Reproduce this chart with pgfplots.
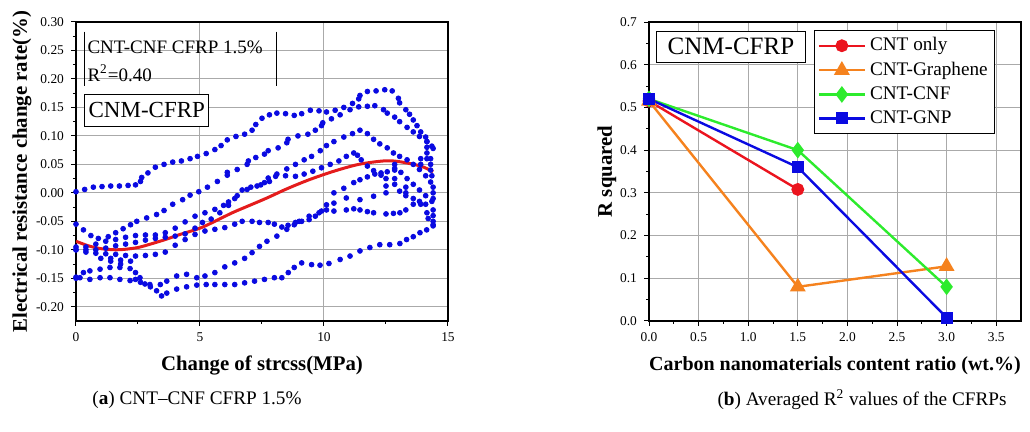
\documentclass[border=0pt]{standalone}
\usepackage{pgfplots}
\pgfplotsset{compat=1.18}
\usepackage{fontspec}
\setmainfont{Liberation Serif}
\definecolor{dotblue}{RGB}{10,10,225}
\definecolor{fitred}{RGB}{228,28,28}
\definecolor{ored}{RGB}{235,20,30}
\definecolor{oorange}{RGB}{245,130,30}
\definecolor{ogreen}{RGB}{45,235,45}
\definecolor{oblue}{RGB}{10,10,225}
\definecolor{gridgray}{RGB}{170,170,170}
\pgfplotsset{
  base/.style={scale only axis, width=186pt, height=149.5pt,
    axis line style={line width=0.6pt},
    grid=major, major grid style={gridgray, line width=0.5pt},
    tick align=outside, xtick pos=bottom, ytick pos=left,
    major tick length=2.5pt, minor tick length=1.5pt,
    tick style={black, line width=0.5pt},
    /pgf/number format/assume math mode=true,
    tick label style={font=\fontsize{6.7}{7}\selectfont},
    label style={font=\bfseries\fontsize{10.4}{12}\selectfont}},
  dots/.style={only marks, mark=*, mark size=1.2pt, color=dotblue}
}
\begin{document}
\begin{tikzpicture}
\path[use as bounding box] (0,0) rectangle (515pt,216pt);
\begin{axis}[base, at={(38pt,55.5pt)}, anchor=south west,
  xmin=0, xmax=15, ymin=-0.225, ymax=0.30,
  xtick={0,5,10,15}, minor x tick num=1,
  ytick={-0.2,-0.15,-0.1,-0.05,0,0.05,0.1,0.15,0.2,0.25,0.3}, minor y tick num=1,
  yticklabel style={/pgf/number format/.cd, fixed, fixed zerofill, precision=2},
  xlabel={Change of strcss(MPa)}, ylabel={Electrical resistance change rate(\%)},
  xlabel style={at={(axis description cs:0.5,-0.15)}, anchor=center},
  ylabel style={at={(axis description cs:-0.145,0.5)}, anchor=center}]
% A
\addplot[dots] coordinates {(0,0.002)(0.35,0.006)(0.7,0.01)(1.05,0.011)(1.4,0.012)(1.75,0.012)(2.1,0.013)(2.4,0.014)(2.6,0.02)(2.65,0.027)(2.9,0.035)(3.2,0.045)(3.55,0.05)(3.9,0.054)(4.25,0.056)(4.6,0.06)(4.9,0.064)(5.25,0.069)(5.6,0.076)(5.85,0.083)(6.1,0.093)(6.45,0.099)(6.8,0.103)(7.1,0.11)(7.25,0.12)(7.5,0.131)(7.8,0.137)(8.1,0.14)(8.45,0.139)(8.8,0.136)(9.1,0.139)(9.45,0.145)(9.8,0.144)(10.1,0.142)(10.45,0.145)(10.8,0.15)(11.15,0.157)(11.4,0.165)(11.45,0.171)(11.75,0.178)(12.1,0.179)(12.45,0.181)(12.75,0.179)(13.0,0.166)(13.05,0.158)(13.3,0.146)(13.45,0.138)(13.6,0.128)(13.75,0.118)(13.9,0.107)(14.1,0.098)(14.15,0.09)(14.4,0.078)};
% B
\addplot[dots] coordinates {(0,-0.055)(0.3,-0.065)(0.6,-0.075)(0.9,-0.08)(1.3,-0.077)(1.6,-0.07)(1.9,-0.063)(2.2,-0.056)(2.45,-0.05)(2.85,-0.044)(3.25,-0.038)(3.55,-0.031)(3.9,-0.02)(4.3,-0.012)(4.6,-0.004)(4.95,0.002)(5.3,0.01)(5.7,0.02)(6.1,0.031)(6.1,0.036)(6.5,0.041)(6.9,0.05)(6.95,0.056)(7.25,0.062)(7.6,0.068)(7.75,0.074)(8.15,0.079)(8.5,0.088)(8.55,0.094)(8.95,0.1)(9.35,0.103)(9.65,0.11)(9.9,0.118)(9.95,0.123)(10.3,0.13)(10.65,0.137)(11.05,0.146)(11.4,0.151)(11.75,0.152)(12.05,0.153)(12.4,0.146)(12.55,0.14)(12.85,0.133)(13.05,0.125)(13.35,0.115)(13.6,0.107)(13.85,0.099)(14.15,0.09)(14.35,0.082)};
% C
\addplot[dots] coordinates {(0,-0.1)(0.4,-0.095)(0.8,-0.09)(1.2,-0.085)(1.6,-0.082)(2.0,-0.078)(2.4,-0.075)(2.8,-0.074)(3.2,-0.074)(3.6,-0.07)(4.0,-0.062)(4.4,-0.051)(4.8,-0.041)(5.2,-0.035)(5.6,-0.029)(5.95,-0.022)(6.15,-0.016)(6.5,-0.005)(6.9,0.006)(7.3,0.012)(7.6,0.018)(7.75,0.026)(8.1,0.033)(8.5,0.042)(8.85,0.05)(9.2,0.058)(9.5,0.064)(9.85,0.074)(10.1,0.083)(10.4,0.09)(10.8,0.098)(11.15,0.104)(11.45,0.11)(11.75,0.104)(12.0,0.094)(12.25,0.086)(12.55,0.079)(12.8,0.07)(13.05,0.064)(13.35,0.058)(13.6,0.05)(13.85,0.041)(14.1,0.03)(14.3,0.019)};
% D
\addplot[dots] coordinates {(0,-0.095)(0.4,-0.1)(0.8,-0.1)(1.2,-0.097)(1.6,-0.093)(2.0,-0.09)(2.4,-0.087)(2.8,-0.083)(3.2,-0.08)(3.6,-0.078)(4.0,-0.076)(4.4,-0.072)(4.8,-0.062)(5.1,-0.052)(5.45,-0.046)(5.8,-0.035)(6.15,-0.022)(6.4,-0.01)(6.7,0.005)(7.05,0.01)(7.45,0.014)(7.8,0.02)(8.05,0.029)(8.45,0.03)(8.85,0.029)(9.2,0.033)(9.55,0.038)(9.9,0.044)(10.25,0.05)(10.6,0.056)(10.9,0.064)(11.2,0.07)(11.35,0.066)(11.5,0.058)(11.75,0.047)(12.0,0.039)(12.3,0.031)(12.55,0.037)(12.85,0.043)(13.1,0.036)(13.35,0.025)(13.6,0.015)(13.85,0.005)(14.1,-0.005)(14.35,-0.015)};
% E
\addplot[dots] coordinates {(0,-0.1)(0.4,-0.104)(0.8,-0.106)(1.2,-0.107)(1.6,-0.108)(2.0,-0.11)(2.4,-0.111)(2.8,-0.11)(3.2,-0.108)(3.6,-0.104)(4.0,-0.092)(4.4,-0.082)(4.8,-0.073)(5.2,-0.067)(5.6,-0.064)(6.0,-0.061)(6.4,-0.055)(6.7,-0.05)(7.1,-0.05)(7.4,-0.052)(7.75,-0.052)(8.0,-0.055)(8.3,-0.06)(8.55,-0.057)(8.85,-0.052)(9.1,-0.05)(9.4,-0.047)(9.65,-0.041)(9.9,-0.032)(10.1,-0.021)(10.4,-0.018)(10.9,-0.009)(11.45,-0.012)(12.0,-0.006)(12.5,0.0)(13.05,0.003)(13.3,0.0)(13.6,-0.01)(13.85,-0.015)(14.1,-0.02)(14.4,-0.01)};
% F
\addplot[dots] coordinates {(0,-0.148)(0.16,-0.149)(0.56,-0.152)(0.97,-0.149)(1.37,-0.149)(1.77,-0.152)(2.18,-0.154)(2.4,-0.152)(2.6,-0.157)(2.78,-0.16)(3.0,-0.165)(3.25,-0.172)(3.45,-0.181)(3.66,-0.176)(4.06,-0.169)(4.46,-0.165)(4.87,-0.162)(5.25,-0.161)(5.6,-0.161)(6.0,-0.161)(6.4,-0.161)(6.8,-0.158)(7.2,-0.155)(7.6,-0.152)(8.0,-0.149)(8.3,-0.149)(8.56,-0.14)(8.8,-0.131)(9.1,-0.123)(9.5,-0.126)(9.84,-0.127)(10.2,-0.124)(10.65,-0.117)(11.05,-0.111)(11.45,-0.102)(11.85,-0.096)(12.25,-0.091)(12.65,-0.091)(13.06,-0.089)(13.33,-0.082)(13.6,-0.077)(13.87,-0.07)(14.14,-0.065)(14.4,-0.056)};
% G
\addplot[dots] coordinates {(0,-0.15)(0.3,-0.14)(0.56,-0.137)(0.97,-0.134)(1.37,-0.131)(1.77,-0.131)(2.18,-0.133)(2.4,-0.14)(2.58,-0.149)(2.98,-0.161)(3.4,-0.161)(3.66,-0.155)(4.06,-0.146)(4.46,-0.143)(4.87,-0.149)(5.2,-0.146)(5.6,-0.14)(6.0,-0.13)(6.4,-0.123)(6.8,-0.115)(7.1,-0.105)(7.4,-0.094)(7.7,-0.085)(8.1,-0.076)(8.5,-0.064)(8.8,-0.056)(9.0,-0.05)(9.4,-0.041)(9.8,-0.035)(10.1,-0.03)(10.4,-0.032)(10.9,-0.03)(11.2,-0.028)(11.45,-0.03)(11.75,-0.033)(12.0,-0.035)(12.5,-0.037)(12.8,-0.036)(13.06,-0.035)(13.3,-0.03)(13.6,-0.02)(13.9,-0.02)(14.15,-0.035)(14.2,-0.045)(14.4,-0.058)};
% extra points
\addplot[dots] coordinates {(14.3,0.06)(14.3,0.05)(14.3,0.04)(14.35,0.03)(14.4,0.01)(14.4,0.0)(14.4,-0.03)(14.4,-0.04)(14.4,-0.05)(14.15,0.08)(14.15,0.07)(14.15,0.06)(13.9,0.06)(13.9,0.05)(12.85,0.05)(12.85,0.04)(12.85,0.025)(12.85,0.015)(13.3,-0.005)(13.3,0.01)(12.5,0.012)(12.5,0.025)(1.4,-0.115)(1.4,-0.12)(1.8,-0.118)(1.8,-0.125)(2.2,-0.12)(1.0,-0.115)(10.4,0.0)(10.8,0.008)(11.2,0.018)(11.45,0.023)(11.75,0.028)(12.05,0.033)(12.3,0.035)};
% fit
\addplot[fitred, line width=1.5pt, smooth] coordinates {(0,-0.085)(0.5,-0.093)(1,-0.098)(1.6,-0.1)(2,-0.099)(2.5,-0.096)(3,-0.09)(3.6,-0.082)(4.2,-0.073)(5,-0.062)(5.6,-0.05)(6.3,-0.035)(7,-0.022)(7.7,-0.009)(8.5,0.007)(9.4,0.023)(10.4,0.038)(11.4,0.05)(12.4,0.056)(13,0.055)(13.9,0.047)(14.4,0.037)};
\draw[line width=0.5pt] (axis cs:0.335,0.283) -- (axis cs:0.335,0.187);
\draw[line width=0.5pt] (axis cs:8.09,0.283) -- (axis cs:8.09,0.187);
\node[anchor=west, font=\fontsize{9.5}{11}\selectfont, inner sep=0pt] at (axis cs:0.45,0.255) {CNT-CNF CFRP 1.5\%};
\node[anchor=west, font=\fontsize{9.5}{11}\selectfont, inner sep=0pt] at (axis cs:0.45,0.21) {R\textsuperscript{2}=0.40};
\node[draw, fill=white, line width=0.5pt, anchor=north west, minimum width=62pt, minimum height=16pt, inner sep=0pt, font=\fontsize{11.5}{13}\selectfont] at (axis cs:0.335,0.174) {CNM-CFRP};
\end{axis}

\begin{axis}[base, at={(324.5pt,55.5pt)}, anchor=south west, clip=false,
  xmin=0, xmax=3.75, ymin=0, ymax=0.7,
  xtick={0,0.5,1,1.5,2,2.5,3,3.5}, minor x tick num=1,
  ytick={0,0.1,0.2,0.3,0.4,0.5,0.6,0.7}, minor y tick num=1,
  xticklabel style={/pgf/number format/.cd, fixed, fixed zerofill, precision=1},
  yticklabel style={/pgf/number format/.cd, fixed, fixed zerofill, precision=1},
  xlabel={Carbon nanomaterials content ratio (wt.\%)}, ylabel={R squared},
  xlabel style={font=\bfseries\fontsize{10}{12}\selectfont, at={(axis description cs:0.5,-0.15)}, anchor=center},
  ylabel style={at={(axis description cs:-0.113,0.5)}, anchor=center},
  legend cell align=left,
  legend style={at={(rel axis cs:0.444,0.973)}, anchor=north west, draw=black, line width=0.5pt,
    font=\fontsize{9.6}{11}\selectfont, row sep=0.1pt, inner sep=1.5pt},
  legend image code/.code={\draw[mark repeat=2,mark phase=2] plot coordinates {(0pt,0pt)(11.5pt,0pt)(23pt,0pt)};}]
\addplot[ored, line width=1.2pt, mark=*, mark size=2.6pt] coordinates {(0,0.515)(1.5,0.308)};
\addlegendentry{CNT only}
\addplot[oorange, line width=1.2pt, mark=triangle*, mark size=3.4pt] coordinates {(0,0.515)(1.5,0.08)(3,0.128)};
\addlegendentry{CNT-Graphene\hspace{9pt}}
\addplot[ogreen, line width=1.2pt, mark=diamond*, mark size=3.2pt] coordinates {(0,0.52)(1.5,0.40)(3,0.08)};
\addlegendentry{CNT-CNF}
\addplot[oblue, line width=1.2pt, mark=square*, mark size=2.4pt] coordinates {(0,0.52)(1.5,0.36)(3,0.008)};
\addlegendentry{CNT-GNP}
\node[draw, fill=white, line width=0.5pt, anchor=north west, minimum width=74.5pt, minimum height=15.5pt, inner sep=0pt, font=\fontsize{12.5}{14}\selectfont] at (axis cs:0.07,0.68) {CNM-CFRP};
\end{axis}
\node[font=\fontsize{9.6}{12}\selectfont] at (98.5pt,16pt) {(\textbf{a}) CNT–CNF CFRP 1.5\%};
\node[font=\fontsize{9.6}{12}\selectfont] at (431pt,16pt) {(\textbf{b}) Averaged R\textsuperscript{2} values of the CFRPs};
\end{tikzpicture}
\end{document}
